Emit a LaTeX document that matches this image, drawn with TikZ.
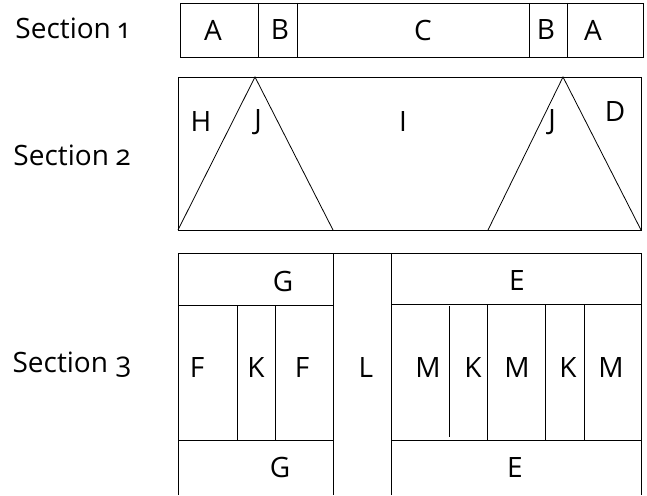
\documentclass[tikz,border=0pt]{standalone}
\usepackage{fontspec}
\setmainfont[Numbers=OldStyle]{Open Sans}
\usetikzlibrary{positioning}

\begin{document}
\begin{tikzpicture}[x=1pt,y=-1pt,line width=0.8pt,
    lbl/.style={font=\fontsize{28}{30}\selectfont,inner sep=0pt},
    sec/.style={font=\fontsize{28}{30}\selectfont,inner sep=0pt}]
  \useasboundingbox (0,0) rectangle (647,495);

  % section titles
  \node[sec] (sec1) at (72,28) {Section 1};
  \node[sec] (sec2) at (72,155) {Section 2};
  \node[sec] (sec3) at (72,365) {Section 3};

  % section 1
  \draw (180,3) rectangle (643,57);
  \draw (258,3) -- (258,57);
  \draw (297,3) -- (297,57);
  \draw (529,3) -- (529,57);
  \draw (567,3) -- (567,57);
  \node[lbl] (a1) at (213,30) {A};
  \node[lbl] (b1) at (280,30) {B};
  \node[lbl] (c) at (423,30) {C};
  \node[lbl] (b2) at (546,30) {B};
  \node[lbl] (a2) at (593,30) {A};

  % section 2
  \draw (178,77) rectangle (641,230);
  \draw (178,230) -- (255,77) -- (333,230);
  \draw (488,230) -- (563,77) -- (641,230);
  \node[lbl] (h) at (201,122) {H};
  \node[lbl] (j1) at (258,122) {J};
  \node[lbl] (i) at (403,122) {I};
  \node[lbl] (j2) at (552,122) {J};
  \node[lbl] (d) at (615,112) {D};

  % section 3, left block
  \draw (178,495) -- (178,253) -- (333,253) -- (333,495);
  \draw (178,305) -- (333,305);
  \draw (178,440) -- (333,440);
  \draw (237,305) -- (237,440);
  \draw (275,305) -- (275,440);
  \node[lbl] (g1) at (283,281) {G};
  \node[lbl] (f1) at (197,368) {F};
  \node[lbl] (k1) at (256,368) {K};
  \node[lbl] (f2) at (302,368) {F};
  \node[lbl] (g2) at (280,467) {G};

  % section 3, middle column
  \draw (333,253) -- (391,253);
  \node[lbl] (l) at (366,368) {L};

  % section 3, right block
  \draw (391,495) -- (391,253) -- (641,253) -- (641,495);
  \draw (391,304) -- (641,304);
  \draw (391,440) -- (641,440);
  \draw (449,306) -- (449,437);
  \draw (487,304) -- (487,440);
  \draw (545,304) -- (545,440);
  \draw (584,304) -- (584,440);
  \node[lbl] (e1) at (517,281) {E};
  \node[lbl] (m1) at (428,368) {M};
  \node[lbl] (k2) at (473,368) {K};
  \node[lbl] (m2) at (517,368) {M};
  \node[lbl] (k3) at (568,368) {K};
  \node[lbl] (m3) at (611,368) {M};
  \node[lbl] (e2) at (515,467) {E};
\end{tikzpicture}
\end{document}
